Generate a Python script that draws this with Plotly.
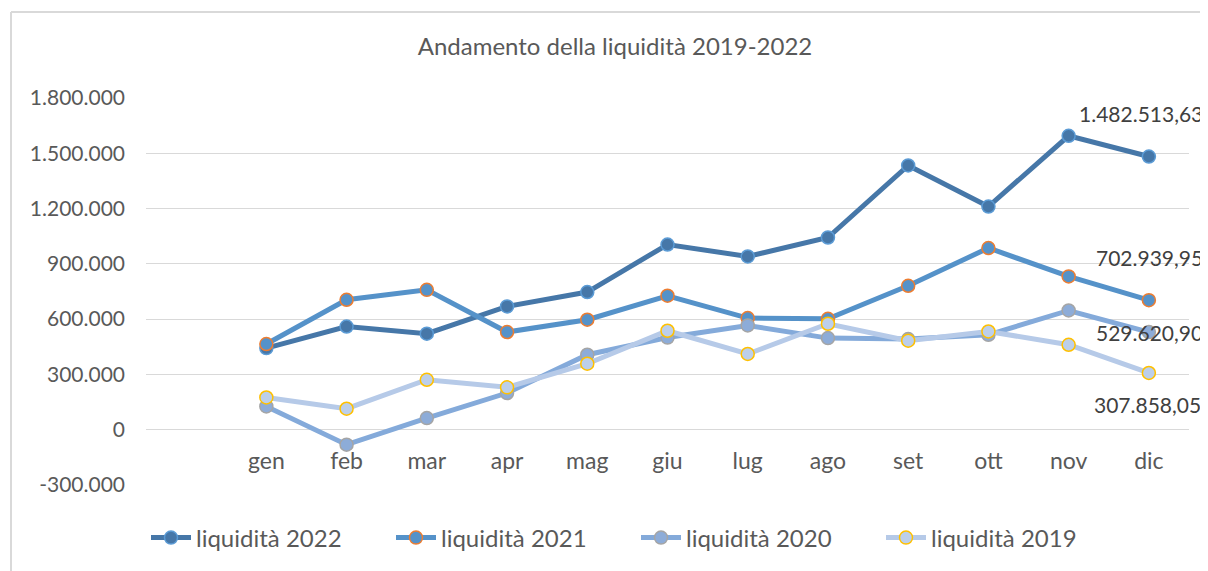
import plotly.graph_objects as go

months = ["gen", "feb", "mar", "apr", "mag", "giu", "lug", "ago", "set", "ott", "nov", "dic"]
liq_2022 = [443000, 560000, 521000, 669000, 747000, 1005000, 940000, 1043000, 1434000, 1211000, 1595000, 1482513.63]
liq_2021 = [465000, 705000, 759000, 530000, 597000, 727000, 606000, 602000, 781000, 986000, 832000, 702939.95]
liq_2020 = [126000, -81000, 63000, 199000, 407000, 500000, 566000, 497000, 492000, 515000, 647000, 529620.90]
liq_2019 = [175000, 114000, 271000, 230000, 358000, 537000, 411000, 575000, 483000, 533000, 461000, 307858.05]
y_ticks = [-300000, 0, 300000, 600000, 900000, 1200000, 1500000, 1800000]

series = [
    ("liquidità 2022", liq_2022, "#4677A8", "#4677A8", "#5B9BD5"),
    ("liquidità 2021", liq_2021, "#5592C9", "#5592C9", "#ED7D31"),
    ("liquidità 2020", liq_2020, "#84AADA", "#8DACD8", "#A5A5A5"),
    ("liquidità 2019", liq_2019, "#B6CAE8", "#BCCFEA", "#FFC000"),
]
# label offsets (xshift of right edge, yshift) for the last-point data labels
label_shift = [(56, 43), (56, 43), (56, 0), (54, -32)]


def fmt_it(v, dec=0):
    s = f"{v:,.{dec}f}"
    return s.replace(",", "X").replace(".", ",").replace("X", ".")


OFF = 8  # page body margin
W, H = 1208 - OFF, 571 - OFF
ML, MR, MT, MB = 146 - OFF, 19, 98 - OFF, 86
FONT = "Lato, Open Sans, sans-serif"
TXT = "#595959"

x_idx = list(range(len(months)))
fig = go.Figure()
for name, vals, lc, mfill, medge in series:
    fig.add_trace(go.Scatter(
        x=x_idx, y=vals, name=name, mode="lines+markers",
        line=dict(color=lc, width=5),
        marker=dict(size=13, color=mfill, line=dict(color=medge, width=1.5)),
    ))

for (name, vals, *_), (dx, dy) in zip(series, label_shift):
    fig.add_annotation(
        x=x_idx[-1], y=vals[-1], text=fmt_it(vals[-1], 2), showarrow=False, xanchor="right",
        xshift=dx, yshift=dy, font=dict(family=FONT, size=21, color="#404040"),
    )

ymin, ymax = y_ticks[0], y_ticks[-1]
plot_w = W - ML - MR
plot_h = H - MT - MB
# chart border (top and left edges)
bx = (11 - OFF - ML) / plot_w
by = 1 + (MT - (12 - OFF)) / plot_h
fig.add_shape(type="line", xref="paper", yref="paper", x0=bx, x1=1 + MR / plot_w + 0.01, y0=by, y1=by,
              line=dict(color="#D9D9D9", width=2))
fig.add_shape(type="line", xref="paper", yref="paper", x0=bx, x1=bx, y0=by, y1=-MB / plot_h - 0.01,
              line=dict(color="#D9D9D9", width=2))

fig.update_layout(
    width=W, height=H,
    margin=dict(l=ML, r=MR, t=MT, b=MB, autoexpand=False),
    paper_bgcolor="white", plot_bgcolor="white",
    font=dict(family=FONT, size=21, color=TXT),
    title=dict(text="Andamento della liquidità 2019-2022", xref="container", x=(615 - OFF) / W, xanchor="center",
               yref="container", y=1 - (47 - OFF) / H, yanchor="middle",
               font=dict(family=FONT, size=24, color=TXT)),
    showlegend=True,
    legend=dict(orientation="h", xref="paper", yref="paper",
                x=(636 - OFF - ML) / plot_w, xanchor="center",
                y=-(538 - OFF - (MT + plot_h)) / plot_h, yanchor="middle",
                font=dict(family=FONT, size=24, color=TXT),
                itemwidth=40, entrywidth=190, entrywidthmode="pixels", bgcolor="rgba(0,0,0,0)"),
    xaxis=dict(
        range=[-1.5, len(months) - 0.5], tickmode="array", tickvals=x_idx, ticktext=months,
        showgrid=False, zeroline=False, showline=False, ticks="",
        anchor="free", position=(0 - ymin) / (ymax - ymin), ticklabelstandoff=15,
        tickfont=dict(family=FONT, size=23, color=TXT), fixedrange=True, automargin=False,
    ),
    yaxis=dict(
        range=[ymin, ymax], tickmode="array", tickvals=y_ticks, ticktext=[fmt_it(v) for v in y_ticks],
        showgrid=True, gridcolor="#D9D9D9", gridwidth=1.3, zeroline=False, showline=False, ticks="",
        ticklabelstandoff=20, tickfont=dict(family=FONT, size=21, color=TXT), fixedrange=True,
        automargin=False,
    ),
)

fig.write_html("out.html")
